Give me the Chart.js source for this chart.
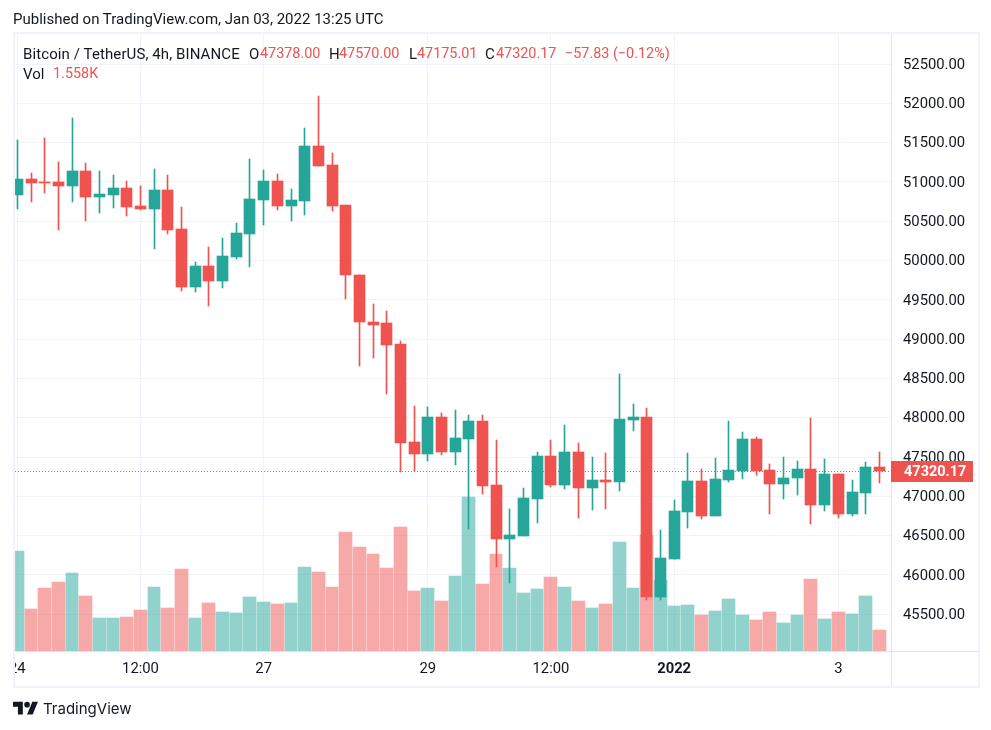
<!DOCTYPE html>
<html>
<head>
<meta charset="utf-8">
<script src="https://cdn.jsdelivr.net/npm/chart.js@4"></script>
<style>
html,body{margin:0;padding:0;background:#fff;width:991px;height:730px;overflow:hidden}
#wrap{position:relative;width:991px;height:730px}
canvas{position:absolute;left:0;top:0}
.t{position:absolute;font-family:Roboto,sans-serif;font-size:15px;line-height:18px;color:#131722;white-space:pre}
.r{color:#ef5350;font-size:14.4px}
</style>
</head>
<body>
<div id="wrap">
<canvas id="c" width="991" height="730"></canvas>
<div class="t" style="left:13px;top:10px">Published on TradingView.com, Jan 03, 2022 13:25 UTC</div>
<div class="t" style="left:23px;top:45px;letter-spacing:.1px">Bitcoin / TetherUS, 4h, BINANCE</div>
<div class="t" style="left:249px;top:45px">O</div><div class="t r" style="left:260px;top:45px">47378.00</div>
<div class="t" style="left:329px;top:45px">H</div><div class="t r" style="left:339px;top:45px">47570.00</div>
<div class="t" style="left:409px;top:45px">L</div><div class="t r" style="left:417px;top:45px">47175.01</div>
<div class="t" style="left:485px;top:45px">C</div><div class="t r" style="left:496px;top:45px">47320.17</div>
<div class="t r" style="left:565px;top:45px">−57.83 (−0.12%)</div>
<div class="t" style="left:23px;top:65px">Vol</div><div class="t r" style="left:53px;top:65px">1.558K</div>
<svg style="position:absolute;left:13px;top:699px" width="25.3" height="19.7" viewBox="0 0 36 28"><path fill="#131722" d="M14 22H7V11H0V4h14v18zM28 22h-8l7.5-18h8L28 22z"/><circle fill="#131722" cx="20" cy="8" r="4"/></svg>
<div class="t" style="left:43px;top:699px;font-size:15px;line-height:20px;font-family:Inter,Roboto,sans-serif">TradingView</div>
</div>
<script>
const opens=[50834,51037,50999,50999,50948,51139,50808,50834,50923,50694,50656,50897,50401,49663,49930,49740,50045,50338,50770,51012,50694,50757,51457,51215,50706,49822,49224,49199,48932,47690,47537,48008,47563,47728,47957,47143,46456,46494,46965,47512,47143,47563,47105,47207,47181,47970,48008,45718,46201,46799,47194,46748,47207,47321,47728,47334,47156,47232,47346,46888,47283,46774,47041,47378];
const highs=[51533,51114,51559,51254,51813,51241,51139,51088,51012,50948,51165,51088,50681,49981,50172,50287,50477,51292,51152,51101,50910,51686,52093,51368,50706,49822,49441,49364,48970,48148,48135,48059,48097,48033,48033,47715,46838,47105,47563,47715,47906,47677,47499,47550,48555,48173,48123,46570,46952,47550,47346,47486,47957,47817,47754,47410,47499,47448,47995,47474,47283,47207,47435,47570];
const lows=[50656,50745,50859,50388,50745,50503,50605,50668,50567,50643,50147,50338,49612,49600,49421,49650,50019,49918,50452,50643,50503,50579,51200,50630,49510,48652,48754,48296,47313,47321,47448,47525,47397,46583,47028,46100,45896,46494,46659,47117,47092,46723,46825,46838,47067,47830,45681,45681,46201,46596,46710,46748,47181,47219,47270,46774,46965,47016,46647,46812,46723,46748,46774,47175.01];
const closes=[51037,50986,50986,50948,51139,50808,50846,50923,50681,50656,50897,50388,49663,49930,49740,50058,50350,50783,51012,50694,50770,51457,51203,50694,49816,49212,49186,48919,47677,47537,48008,47563,47741,47957,47130,46456,46507,46977,47512,47143,47563,47105,47207,47181,47983,48008,45718,46214,46812,47194,46748,47219,47334,47728,47321,47156,47232,47346,46888,47283,46774,47054,47372,47320.17];
const volumes=[7.42,3.12,4.67,5.12,5.79,4.08,2.45,2.45,2.52,3.04,4.75,3.19,6.08,2.45,3.56,2.89,2.82,4.01,3.64,3.49,3.56,6.23,5.86,4.75,8.83,7.72,7.20,6.16,9.20,4.45,4.67,3.71,5.57,11.43,4.97,7.20,6.16,4.30,4.60,5.49,4.75,3.71,3.19,3.49,8.09,4.67,8.61,5.27,3.34,3.41,2.67,2.97,3.86,2.67,2.30,2.89,2.08,2.67,5.34,2.37,2.89,2.75,4.08,1.558];
const priceTicks=[45500,46000,46500,47000,47500,48000,48500,49000,49500,50000,50500,51000,51500,52000,52500];
const timeTickIndex=[0,9,18,30,39,48,60];
const timeTickLabels=['24','12:00','27','29','12:00','2022','3'];
const lastPrice=47320.17;
const UP='#26a69a',DOWN='#ef5350',UPV='rgba(38,166,154,0.5)',DOWNV='rgba(239,83,80,0.5)',GRID='#f0f3fa',FRAME='#e0e3eb',TXT='#131722',FONT='Roboto,sans-serif';
const xMin=-0.168,xMax=63.85;
const isUp=i=>closes[i]>=opens[i];
const snapPlugin={id:'snap',afterDatasetsUpdate(chart){
  chart.data.datasets.forEach((ds,k)=>{
    const meta=chart.getDatasetMeta(k);
    const rawX=meta.data.map(el=>el.x);
    meta.data.forEach((el,i)=>{
      if(ds.type==='line'){el.y=Math.floor(el.y)+0.5;return;}
      el.y=Math.round(el.y);el.base=Math.round(el.base);
      if(el.y===el.base)el.base=el.y+1;
      if(ds.label==='Volume'){
        const left=Math.floor(rawX[i])-6;
        const w=i+1<rawX.length?Math.floor(rawX[i+1])-6-left-1:13;
        el.width=w;el.x=left+w/2;
      }else{
        el.x=Math.floor(rawX[i])+0.5;
      }
    });
  });
}};
const framePlugin={id:'frame',afterDraw(chart){
  const c=chart.ctx,a=chart.chartArea;
  const right=chart.width-13,bottom=a.bottom+35,top=a.top;
  c.save();
  c.fillStyle='#fff';c.fillRect(0,a.bottom+1,a.left-1,40);
  c.strokeStyle=FRAME;c.lineWidth=1;
  c.beginPath();c.moveTo(a.left,a.bottom+.5);c.lineTo(right,a.bottom+.5);
  c.moveTo(a.right+.5,top);c.lineTo(a.right+.5,bottom);c.stroke();
  c.strokeStyle=GRID;c.lineWidth=2;
  c.strokeRect(a.left-1,top-1,right-a.left+2,bottom-top+2);
  const y=chart.scales.y.getPixelForValue(lastPrice);
  c.fillStyle=DOWN;c.fillRect(a.right,Math.round(y)-10,82,21);
  c.fillStyle='#fff';c.font='bold 14.5px '+FONT;c.textBaseline='middle';c.textAlign='left';
  c.fillText(lastPrice.toFixed(2),a.right+13,Math.round(y)+1);
  c.restore();
}};
const idx=opens.map((_,i)=>i);
new Chart(document.getElementById('c'),{
  data:{datasets:[
    {type:'bar',label:'Body',order:1,yAxisID:'y',grouped:false,barThickness:11,borderWidth:0,
     data:idx.map(i=>({x:i,y:[opens[i],closes[i]]})),backgroundColor:idx.map(i=>isUp(i)?UP:DOWN)},
    {type:'bar',label:'Wick',order:2,yAxisID:'y',grouped:false,barThickness:1,borderWidth:0,
     data:idx.map(i=>({x:i,y:[lows[i],highs[i]]})),backgroundColor:idx.map(i=>isUp(i)?UP:DOWN)},
    {type:'line',label:'Last',order:3,yAxisID:'y',data:[{x:xMin,y:lastPrice},{x:xMax,y:lastPrice}],
     borderColor:DOWN,borderWidth:1,borderDash:[1,2],pointRadius:0,tension:0},
    {type:'bar',label:'Volume',order:4,yAxisID:'v',grouped:false,barThickness:13,borderWidth:0,
     data:idx.map(i=>({x:i,y:volumes[i]})),backgroundColor:idx.map(i=>isUp(i)?UPV:DOWNV)}
  ]},
  options:{
    responsive:false,animation:false,devicePixelRatio:1,
    layout:{padding:{left:13,top:34,right:13,bottom:44}},
    plugins:{legend:{display:false},tooltip:{enabled:false}},
    scales:{
      x:{type:'linear',offset:false,min:xMin,max:xMax,
        afterBuildTicks(s){s.ticks=timeTickIndex.map(v=>({value:v}));},
        afterFit(s){s.height=35;},
        grid:{color:GRID,lineWidth:1,drawTicks:false,offset:false},border:{display:false},
        ticks:{autoSkip:false,maxRotation:0,padding:9,color:TXT,
          font:ctx=>({family:FONT,size:14.8,weight:timeTickLabels[ctx.index]==='2022'?'bold':'normal'}),
          callback:(v,i)=>timeTickLabels[i]}},
      y:{position:'right',min:45032,max:52882,
        afterBuildTicks(s){s.ticks=priceTicks.map(v=>({value:v}));},
        afterFit(s){s.width=87;},
        grid:{color:GRID,lineWidth:1,drawTicks:false},border:{display:false},
        ticks:{padding:12,labelOffset:1,color:TXT,font:{family:FONT,size:14.8},callback:v=>v.toFixed(2)}},
      v:{display:false,min:0,max:45.78}
    }
  },
  plugins:[snapPlugin,framePlugin]
});
</script>
</body>
</html>
